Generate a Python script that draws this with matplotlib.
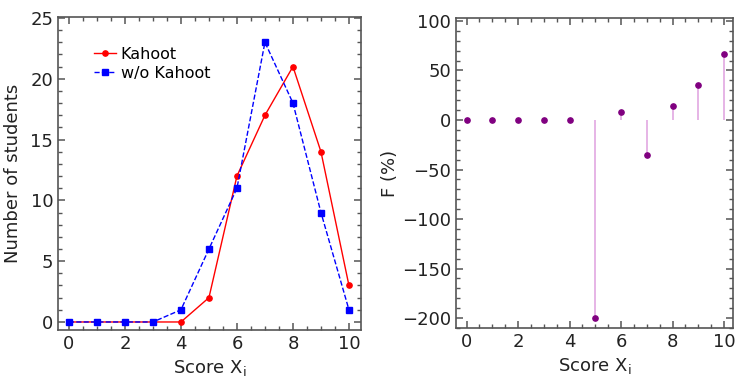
import matplotlib
matplotlib.use("Agg")
import matplotlib.pyplot as plt
from matplotlib.ticker import MultipleLocator

# data
scores = [0, 1, 2, 3, 4, 5, 6, 7, 8, 9, 10]
kahoot = [0, 0, 0, 0, 0, 2, 12, 17, 21, 14, 3]
wo_kahoot = [0, 0, 0, 0, 1, 6, 11, 23, 18, 9, 1]
f_percent = [0, 0, 0, 0, 0, -200, 8.3, -35.3, 14.3, 35.7, 66.7]

plt.rcParams['font.family'] = ['DejaVu Sans']
plt.rcParams['mathtext.default'] = 'regular'

fig = plt.figure(figsize=(7.35, 3.81), dpi=100)
W, H = 735, 381
ax1 = fig.add_axes([58 / W, 1 - 330 / H, (361 - 58) / W, (330 - 17) / H])
ax2 = fig.add_axes([456 / W, 1 - 328 / H, (733 - 456) / W, (328 - 18) / H])

def style(ax):
	for s in ax.spines.values():
		s.set_color('#555555')
		s.set_linewidth(1.2)
	ax.tick_params(which='both', direction='in', top=True, right=True, colors='#555555', labelcolor='#222222', labelsize=13)
	ax.tick_params(which='major', length=5, width=1.1)
	ax.tick_params(which='minor', length=3, width=1)
	ax.xaxis.set_major_locator(MultipleLocator(2))
	ax.xaxis.set_minor_locator(MultipleLocator(0.5))

# left panel
ax1.plot(scores, kahoot, '-o', color='red', lw=1, ms=3.8, label='Kahoot')
ax1.plot(scores, wo_kahoot, '--s', color='blue', lw=1, ms=3.8, label='w/o Kahoot')
ax1.set_xlim(-0.39, 10.43)
ax1.set_ylim(-0.66, 25.08)
style(ax1)
ax1.yaxis.set_major_locator(MultipleLocator(5))
ax1.yaxis.set_minor_locator(MultipleLocator(1))
ax1.set_xlabel('Score X$_\\mathregular{i}$', fontsize=13, color='#222222', labelpad=4)
ax1.set_ylabel('Number of students', fontsize=13, color='#222222', labelpad=6)
ax1.legend(loc='upper left', bbox_to_anchor=(0.07, 0.95), frameon=False, fontsize=11.5,
	handlelength=1.4, handletextpad=0.3, labelspacing=0.25)

# right panel
ax2.vlines(scores, 0, f_percent, color='#e2a8e2', lw=1.2)
ax2.plot(scores, f_percent, 'o', color='#800080', ms=3.8)
ax2.set_xlim(-0.41, 10.35)
ax2.set_ylim(-210, 103)
style(ax2)
ax2.yaxis.set_major_locator(MultipleLocator(50))
ax2.yaxis.set_minor_locator(MultipleLocator(10))
ax2.set_xlabel('Score X$_\\mathregular{i}$', fontsize=13, color='#222222', labelpad=4)
ax2.set_ylabel('F (%)', fontsize=13, color='#222222', labelpad=2)

fig.savefig('out.png', dpi=100)
